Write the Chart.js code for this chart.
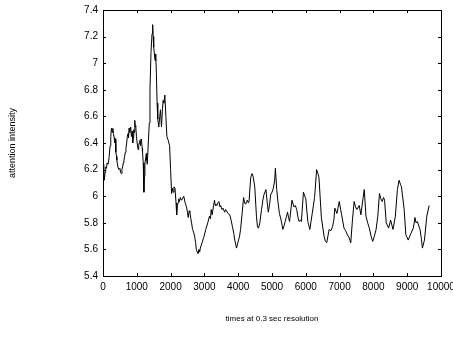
<!DOCTYPE html>
<html>
<head>
<meta charset="utf-8">
<script src="https://cdn.jsdelivr.net/npm/chart.js@4.4.1/dist/chart.umd.min.js"></script>
<style>
  html, body { margin: 0; padding: 0; background: #fff; }
  #chart { display: block; }
</style>
</head>
<body>
<canvas id="chart" width="453" height="345"></canvas>
<script>
// Sample positions (time index) and attention values
const times = [
    0, 20, 40, 60, 80, 100, 120, 150, 180, 210, 230, 250, 270, 290, 310, 330, 350, 365, 380, 400,
    410, 440, 470, 500, 520, 540, 560, 580, 600, 620, 640, 660, 680, 700, 720, 740, 755, 770, 790, 820,
    835, 850, 865, 880, 895, 910, 925, 940, 955, 970, 990, 1010, 1040, 1055, 1070, 1090, 1110, 1125, 1140, 1160,
    1170, 1190, 1210, 1225, 1240, 1260, 1280, 1295, 1310, 1340, 1370, 1390, 1420, 1450, 1470, 1485, 1500, 1540, 1560, 1580,
    1600, 1620, 1650, 1680, 1700, 1730, 1760, 1780, 1800, 1830, 1860, 1890, 1930, 1970, 2000, 2030, 2050, 2080, 2100, 2130,
    2160, 2180, 2200, 2220, 2240, 2260, 2290, 2320, 2350, 2390, 2430, 2470, 2500, 2520, 2550, 2570, 2600, 2620, 2650, 2680,
    2710, 2740, 2760, 2790, 2810, 2840, 2860, 2880, 2930, 2980, 3040, 3100, 3150, 3180, 3200, 3230, 3270, 3300, 3320, 3340,
    3370, 3400, 3430, 3460, 3480, 3520, 3550, 3600, 3630, 3650, 3700, 3750, 3790, 3830, 3870, 3900, 3950, 3980, 4010, 4040,
    4070, 4120, 4160, 4190, 4220, 4250, 4270, 4300, 4320, 4370, 4410, 4440, 4490, 4540, 4570, 4600, 4640, 4690, 4730, 4760,
    4820, 4860, 4890, 4930, 4960, 5000, 5040, 5080, 5100, 5140, 5180, 5220, 5270, 5320, 5360, 5390, 5430, 5460, 5490, 5520,
    5590, 5650, 5690, 5730, 5770, 5800, 5840, 5870, 5930, 5970, 6000, 6060, 6120, 6190, 6260, 6320, 6360, 6390, 6460, 6540,
    6580, 6620, 6690, 6740, 6790, 6830, 6860, 6920, 6990, 7060, 7130, 7180, 7230, 7280, 7330, 7380, 7430, 7470, 7510, 7580,
    7630, 7690, 7730, 7780, 7830, 7880, 7930, 7980, 8030, 8080, 8130, 8180, 8220, 8260, 8300, 8330, 8380, 8450, 8510, 8550,
    8580, 8650, 8710, 8760, 8800, 8830, 8910, 8960, 9030, 9110, 9180, 9230, 9260, 9300, 9380, 9420, 9450, 9510, 9580, 9650
];
const attention = [
    6.20, 6.24, 6.12, 6.18, 6.22, 6.21, 6.25, 6.24, 6.29, 6.38, 6.45, 6.51, 6.48, 6.51, 6.47, 6.44, 6.40, 6.43, 6.33, 6.30,
    6.27, 6.22, 6.20, 6.21, 6.18, 6.17, 6.20, 6.22, 6.25, 6.27, 6.30, 6.33, 6.36, 6.40, 6.45, 6.47, 6.44, 6.51, 6.48, 6.52,
    6.46, 6.45, 6.49, 6.40, 6.44, 6.50, 6.48, 6.57, 6.53, 6.52, 6.45, 6.40, 6.35, 6.38, 6.40, 6.42, 6.38, 6.43, 6.42, 6.36,
    6.33, 6.25, 6.03, 6.15, 6.25, 6.28, 6.32, 6.27, 6.24, 6.40, 6.55, 6.80, 7.08, 7.22, 7.29, 7.20, 7.12, 7.02, 7.07, 6.92,
    6.70, 6.58, 6.52, 6.60, 6.65, 6.52, 6.66, 6.72, 6.70, 6.76, 6.60, 6.45, 6.42, 6.38, 6.20, 6.02, 6.06, 6.03, 6.07, 6.06,
    5.95, 5.86, 5.93, 5.95, 5.98, 5.96, 5.99, 5.97, 5.98, 6.00, 5.95, 5.92, 5.88, 5.84, 5.89, 5.88, 5.83, 5.80, 5.75, 5.73,
    5.70, 5.65, 5.60, 5.58, 5.57, 5.60, 5.58, 5.61, 5.65, 5.69, 5.75, 5.80, 5.85, 5.83, 5.90, 5.86, 5.93, 5.97, 5.93, 5.94,
    5.93, 5.95, 5.96, 5.92, 5.93, 5.90, 5.91, 5.88, 5.90, 5.89, 5.87, 5.86, 5.82, 5.77, 5.72, 5.67, 5.61, 5.64, 5.67, 5.70,
    5.75, 5.88, 5.99, 5.95, 5.94, 5.96, 5.97, 5.95, 5.96, 6.14, 6.17, 6.15, 6.07, 5.85, 5.77, 5.76, 5.80, 5.90, 5.97, 6.01,
    6.05, 5.95, 5.88, 5.94, 6.01, 6.03, 6.06, 6.12, 6.21, 6.05, 5.95, 5.87, 5.82, 5.75, 5.78, 5.81, 5.85, 5.88, 5.84, 5.81,
    5.97, 5.92, 5.93, 5.90, 5.84, 5.81, 5.82, 5.81, 6.03, 6.00, 5.98, 5.81, 5.75, 5.87, 5.99, 6.20, 6.17, 6.14, 5.84, 5.70,
    5.66, 5.65, 5.75, 5.74, 5.77, 5.82, 5.91, 5.87, 5.96, 5.86, 5.76, 5.74, 5.71, 5.69, 5.65, 5.82, 5.96, 5.92, 5.90, 5.93,
    5.86, 5.98, 6.05, 5.85, 5.80, 5.76, 5.70, 5.66, 5.70, 5.75, 5.85, 6.02, 5.98, 5.96, 5.99, 5.97, 5.80, 5.76, 5.82, 5.78,
    5.75, 5.85, 6.05, 6.12, 6.09, 6.07, 5.90, 5.71, 5.67, 5.72, 5.76, 5.84, 5.80, 5.81, 5.75, 5.68, 5.61, 5.67, 5.85, 5.93
];

// Axis limits / tick spacing
const xRange = [0, 10000];
const xStep = 1000;
const yRange = [5.4, 7.4];
const yStep = 0.2;

const xTitle = 'times at 0.3 sec resolution';
const yTitle = 'attention intensity';

const FONT = 'Liberation Sans, Arial, Helvetica, sans-serif';

// MATLAB-like box with inward ticks on all four sides
const boxAxes = {
    id: 'boxAxes',
    afterDatasetsDraw(chart) {
        const { ctx, chartArea: a, scales: { x, y } } = chart;
        const len = 3;
        ctx.save();
        ctx.strokeStyle = '#000';
        ctx.lineWidth = 1;
        ctx.beginPath();
        x.ticks.forEach(t => {
            const p = Math.round(x.getPixelForValue(t.value)) + 0.5;
            ctx.moveTo(p, a.bottom); ctx.lineTo(p, a.bottom - len);
            ctx.moveTo(p, a.top); ctx.lineTo(p, a.top + len);
        });
        y.ticks.forEach(t => {
            const p = Math.round(y.getPixelForValue(t.value)) + 0.5;
            ctx.moveTo(a.left, p); ctx.lineTo(a.left + len, p);
            ctx.moveTo(a.right, p); ctx.lineTo(a.right - len, p);
        });
        ctx.stroke();
        ctx.strokeRect(Math.round(a.left) + 0.5, Math.round(a.top) + 0.5,
            Math.round(a.right - a.left), Math.round(a.bottom - a.top));
        ctx.restore();
    }
};

new Chart(document.getElementById('chart'), {
    type: 'line',
    data: {
        datasets: [{
            data: times.map((t, i) => ({ x: t, y: attention[i] })),
            borderColor: '#000',
            borderWidth: 1,
            pointRadius: 0,
            tension: 0,
            fill: false,
        }]
    },
    options: {
        responsive: false,
        animation: false,
        events: [],
        layout: { padding: { top: 10, right: 12, left: 0, bottom: 0 } },
        plugins: {
            legend: { display: false },
            tooltip: { enabled: false },
        },
        scales: {
            x: {
                type: 'linear',
                min: xRange[0],
                max: xRange[1],
                grid: { display: false, drawTicks: false },
                border: { display: false },
                ticks: {
                    stepSize: xStep,
                    maxRotation: 0,
                    autoSkip: false,
                    padding: 5,
                    color: '#000',
                    font: { family: FONT, size: 10 },
                    callback: v => String(v),
                },
                title: {
                    display: true,
                    text: xTitle,
                    color: '#000',
                    font: { family: FONT, size: 8 },
                    padding: { top: 0, bottom: 21 },
                },
                afterFit(s) {
                    s.height = 69;
                    s.paddingLeft = 0;
                    s.paddingRight = 0;
                },
            },
            y: {
                min: yRange[0],
                max: yRange[1],
                grid: { display: false, drawTicks: false },
                border: { display: false },
                ticks: {
                    stepSize: yStep,
                    padding: 5,
                    color: '#000',
                    font: { family: FONT, size: 10 },
                    callback: v => String(+v.toFixed(1)),
                },
                title: {
                    display: true,
                    text: yTitle,
                    color: '#000',
                    font: { family: FONT, size: 9 },
                    padding: { top: 7, bottom: 0 },
                },
                afterFit(s) {
                    s.width = 103;
                    s.paddingTop = 0;
                    s.paddingBottom = 0;
                },
            }
        }
    },
    plugins: [boxAxes]
});
</script>
</body>
</html>
